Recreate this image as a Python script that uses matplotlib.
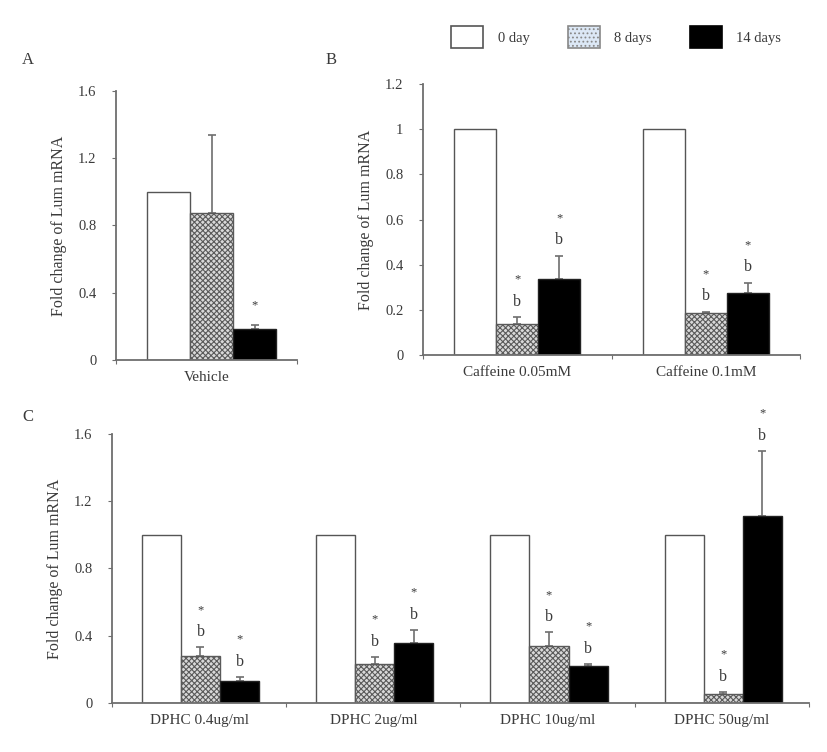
import numpy as np
import matplotlib
matplotlib.use('Agg')
import matplotlib.pyplot as plt
from matplotlib.patches import Patch
from matplotlib.ticker import FuncFormatter

plt.rcParams['font.family'] = ['Liberation Serif', 'DejaVu Serif']
plt.rcParams['hatch.linewidth'] = 0.8

# data
series = ['0 day', '8 days', '14 days']

a_groups = ['Vehicle']
a_mean = [[1.0], [0.875], [0.185]]
a_err = [[0.0], [0.465], [0.025]]
a_note = [[''], [''], ['*']]

b_groups = ['Caffeine 0.05mM', 'Caffeine 0.1mM']
b_mean = [[1.0, 1.0], [0.137, 0.186], [0.336, 0.274]]
b_err = [[0.0, 0.0], [0.03, 0.006], [0.104, 0.046]]
b_note = [['', ''], ['*\nb', '*\nb'], ['*\nb', '*\nb']]

c_groups = ['DPHC 0.4ug/ml', 'DPHC 2ug/ml', 'DPHC 10ug/ml', 'DPHC 50ug/ml']
c_mean = [[1.0, 1.0, 1.0, 1.0], [0.28, 0.232, 0.34, 0.054], [0.13, 0.355, 0.22, 1.11]]
c_err = [[0.0, 0.0, 0.0, 0.0], [0.05, 0.04, 0.08, 0.012], [0.025, 0.08, 0.012, 0.39]]
c_note = [['', '', '', ''], ['*\nb', '*\nb', '*\nb', '*\nb'], ['*\nb', '*\nb', '*\nb', '*\nb']]

ylabel = 'Fold change of Lum mRNA'

grey = '#6e6e6e'
text_c = '#3a3a3a'
styles = [dict(color='white', edgecolor='#555555', hatch=None),
          dict(color='#d9d9d9', edgecolor='#5a5a5a', hatch='xxxxxx'),
          dict(color='black', edgecolor='#222222', hatch=None)]


def panel(ax, groups, means, errs, notes, ymax, ystep, width, shift, xlim):
    x = np.arange(len(groups))
    offs = [-width, 0, width]
    for k in range(3):
        xs = x + offs[k] + shift
        ax.bar(xs, means[k], width, facecolor=styles[k]['color'],
               edgecolor=styles[k]['edgecolor'], hatch=styles[k]['hatch'],
               linewidth=1.0, zorder=2)
        e = np.array(errs[k])
        m = np.array(means[k])
        show = e > 0
        if show.any():
            ax.errorbar(xs[show], m[show], yerr=[np.zeros(show.sum()), e[show]],
                        fmt='none', ecolor=grey, elinewidth=1.2, capsize=3,
                        capthick=1.2, zorder=1)
        for xi, mi, ei, nt in zip(xs, m, e, notes[k]):
            if nt:
                lines = nt.split('\n')
                if len(lines) == 2:
                    ax.annotate(lines[1], (xi, mi + ei), xytext=(0, 11),
                                textcoords='offset points', ha='center', va='center',
                                fontsize=11.5, color=text_c)
                    ax.annotate(lines[0], (xi, mi + ei), xytext=(0, 27),
                                textcoords='offset points', ha='center', va='center',
                                fontsize=9, color=text_c)
                else:
                    ax.annotate(lines[0], (xi, mi + ei), xytext=(0, 14),
                                textcoords='offset points', ha='center', va='center',
                                fontsize=9, color=text_c)
    ax.set_ylim(0, ymax)
    ax.set_xlim(*xlim)
    ax.set_yticks(np.arange(0, ymax + 1e-9, ystep))
    ax.yaxis.set_major_formatter(FuncFormatter(lambda v, p: '%g' % round(v, 2)))
    ax.set_xticks(np.arange(len(groups) + 1) - 0.5)
    ax.set_xticklabels([])
    ax.set_xticks(x, minor=True)
    ax.set_xticklabels(groups, minor=True)
    ax.tick_params(axis='x', which='minor', length=0, pad=8, labelsize=11, labelcolor=text_c)
    ax.tick_params(axis='x', which='major', length=3, color=grey, direction='out')
    ax.tick_params(axis='y', length=3, color=grey, labelsize=10.5, labelcolor=text_c, pad=11)
    for s in ['top', 'right']:
        ax.spines[s].set_visible(False)
    for s in ['left', 'bottom']:
        ax.spines[s].set_color(grey)
        ax.spines[s].set_linewidth(1.3)
    ax.set_ylabel(ylabel, fontsize=11.5, color=text_c, labelpad=8)


fig = plt.figure(figsize=(8.27, 7.52), dpi=100)

axA = fig.add_axes([0.1403, 0.5213, 0.2189, 0.3577])
panel(axA, a_groups, a_mean, a_err, a_note, 1.6, 0.4, 0.238, 0.028, (-0.5, 0.5))

axB = fig.add_axes([0.5115, 0.5279, 0.4559, 0.3604])
panel(axB, b_groups, b_mean, b_err, b_note, 1.2, 0.2, 0.223, 0.0, (-0.5, 1.5))

axC = fig.add_axes([0.1354, 0.0652, 0.8428, 0.3577])
panel(axC, c_groups, c_mean, c_err, c_note, 1.6, 0.4, 0.224, 0.008, (-0.5, 3.5))

fig.text(22 / 827, 1 - 60 / 752, 'A', fontsize=12, color=text_c, va='center')
fig.text(326 / 827, 1 - 60 / 752, 'B', fontsize=12, color=text_c, va='center')
fig.text(22 / 827, 1 - 417 / 752, 'C', fontsize=12, color=text_c, va='center')

handles = [Patch(facecolor='white', edgecolor='#555555', linewidth=1.2),
           Patch(facecolor='#dce8f6', edgecolor='#888888', hatch='....', linewidth=1.2),
           Patch(facecolor='black', edgecolor='black', linewidth=1.2)]
fig.legend(handles, series, ncol=3, loc='center', bbox_to_anchor=(0.745, 1 - 37 / 752),
           frameon=False, handlelength=2.2, handleheight=2.0, columnspacing=2.6,
           handletextpad=1.0, prop={'size': 10.5}, labelcolor=text_c)

fig.savefig('out.png', dpi=100)
